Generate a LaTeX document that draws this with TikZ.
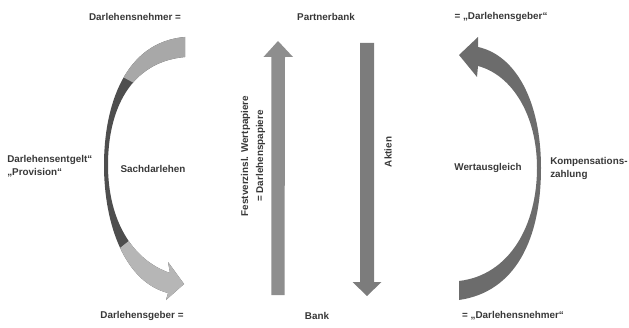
\documentclass[tikz,border=0pt]{standalone}
\usepackage{fontspec}
\setmainfont{Liberation Sans}
\definecolor{txt}{HTML}{383838}
\definecolor{darkband}{HTML}{4E4E4E}
\definecolor{lighttop}{HTML}{A8A8A8}
\definecolor{lightbot}{HTML}{B6B6B6}
\definecolor{rightband}{HTML}{6C6C6C}
\definecolor{uparrow}{HTML}{8E8E8E}
\definecolor{downarrow}{HTML}{7C7C7C}
\begin{document}
\begin{tikzpicture}[x=0.75pt,y=-0.75pt,
  lbl/.style={font=\fontsize{7.4}{9.75}\selectfont\bfseries, text=txt, inner sep=0pt},
  rlbl/.style={lbl, font=\fontsize{7.4}{11.25}\selectfont\bfseries, rotate=90, align=center},
  leftcres/.style={insert path={(185,37) .. controls (125,42) and (104,105) .. (104,165)
     .. controls (104,225) and (125,282) .. (168,293) -- (166,300) -- (184,284) -- (168,262)
     -- (170,273) .. controls (132,260) and (108,220) .. (108,165)
     .. controls (108,110) and (130,62) .. (185,57) -- cycle}},
  rightcres/.style={insert path={(459,300) .. controls (515,292) and (541,240) .. (541,168)
     .. controls (541,100) and (515,55) .. (478,47) -- (478,37) -- (459,55) -- (477,77)
     -- (478,66) .. controls (512,75) and (537,115) .. (537,168)
     .. controls (537,225) and (510,275) .. (459,281) -- cycle}}]
\useasboundingbox (0,0) rectangle (629,328);

% left crescent arrow
\fill[darkband, leftcres];
\begin{scope}
  \clip[leftcres];
  \fill[lighttop] (95,0) -- (95,62) -- (210,124) -- (210,0) -- cycle;
  \fill[lightbot] (90,272) -- (160,216) -- (220,216) -- (220,320) -- (90,320) -- cycle;
\end{scope}

% right crescent arrow
\fill[rightband, rightcres];

% vertical arrows
\coordinate (upBot) at (278,295);
\coordinate (upTop) at (278,41);
\coordinate (dnTop) at (367,43);
\coordinate (dnBot) at (367,296);
\fill[uparrow] ([xshift=-4.9pt]upBot) -- ++(0,-238) -- ++(-8,0) -- (upTop) -- ++(15,16) -- ++(-8,0) -- ([xshift=4.9pt]upBot) -- cycle;
\fill[downarrow] ([xshift=-5.25pt]dnTop) -- ++(0,239) -- ++(-7.5,0) -- (dnBot) -- ++(14.5,-14) -- ++(-7.5,0) -- ([xshift=5.25pt]dnTop) -- cycle;

% labels
\node[lbl] (dnehmer) at (135,16.5) {Darlehensnehmer =};
\node[lbl] (pbank) at (326,16.5) {Partnerbank};
\node[lbl] (dgeber) at (501,16.5) {= „Darlehensgeber“};
\node[lbl, anchor=west, align=left] (entgelt) at (7,166.5) {Darlehensentgelt“\\„Provision“};
\node[lbl] (sach) at (153,169) {Sachdarlehen};
\node[rlbl] (fest) at (253,156) {Festverzinsl. Wertpapiere\\= Darlehenspapiere};
\node[lbl, rotate=90] (aktien) at (388,152) {Aktien};
\node[lbl] (wert) at (488,168) {Wertausgleich};
\node[lbl, anchor=west, align=left] (komp) at (550,168.5) {Kompensations-\\zahlung};
\node[lbl] (dgeber2) at (142,315.5) {Darlehensgeber =};
\node[lbl] (bank) at (317,315.5) {Bank};
\node[lbl] (dnehmer2) at (513,315.5) {= „Darlehensnehmer“};
\end{tikzpicture}
\end{document}
